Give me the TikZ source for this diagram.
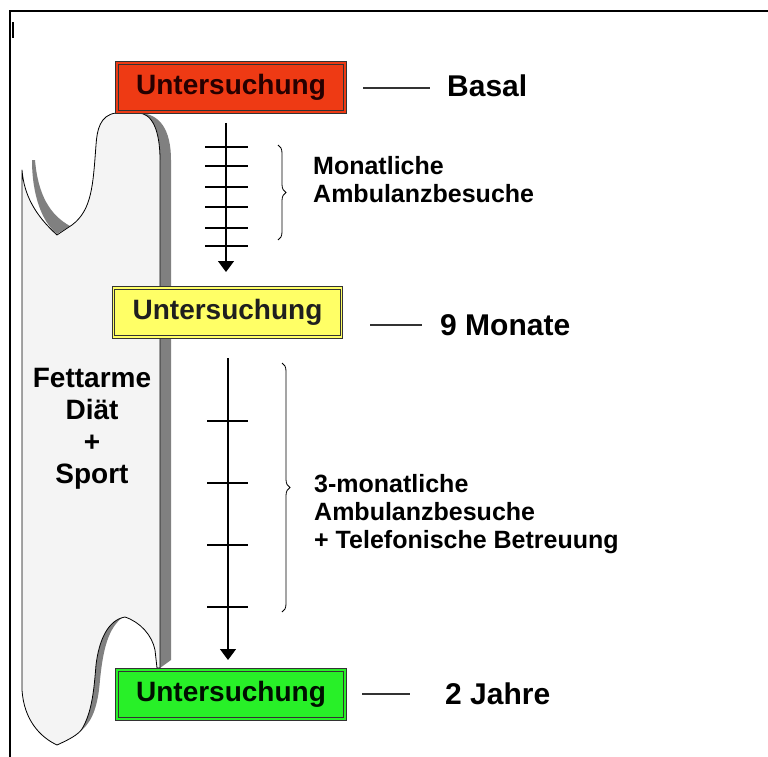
\documentclass[tikz,border=0pt]{standalone}
\usepackage{fontspec}
\setmainfont{Liberation Sans}
\usetikzlibrary{arrows.meta,decorations.pathreplacing}
\definecolor{redfill}{RGB}{238,58,20}
\definecolor{yellowfill}{RGB}{255,255,102}
\definecolor{greenfill}{RGB}{40,240,40}
\definecolor{bodyfill}{RGB}{244,244,244}
\definecolor{shadowgray}{RGB}{128,128,128}
\begin{document}
\begin{tikzpicture}[x=1pt,y=-1pt,
  exambox/.style={draw=black!80, line width=0.9pt, double distance=1.6pt,
    minimum width=228pt, minimum height=49pt, inner sep=0pt,
    font=\bfseries\fontsize{28}{32}\selectfont, text=black!88},
  timelab/.style={font=\bfseries\fontsize{30}{36}\selectfont, anchor=base west, inner sep=0pt},
  notelab/.style={font=\bfseries\fontsize{25}{28}\selectfont, anchor=base west, inner sep=0pt},
  leader/.style={line width=1.1pt, black!80},
  timeline/.style={line width=1.3pt, -{Triangle[width=16pt,length=11pt]}},
  tick/.style={line width=1.1pt},
  bracestyle/.style={line width=0.8pt, decorate, decoration={brace, amplitude=8pt}}]
\useasboundingbox (0,0) rectangle (768,757);
\fill[white] (0,0) rectangle (768,757);
% frame
\draw[line width=2.5pt] (10,757) -- (10,11) -- (768,11);
\fill (11.5,22) rectangle (13.5,38);
% scroll shadows
\fill[shadowgray] (138,113) .. controls (160,113) and (171,130) .. (171,160) -- (171,660) -- (160,668) -- (160,160) .. controls (160,130) and (152,113) .. (138,113) -- cycle;
\fill[shadowgray] (32,160) .. controls (32,195) and (42,222) .. (57,234) -- (70,226) .. controls (50,215) and (38,195) .. (35,160) -- cycle;
\fill[shadowgray] (123,617) .. controls (108,628) and (103,650) .. (100,680) .. controls (98,705) and (93,720) .. (82,730) -- (80,731) .. controls (90,715) and (93,690) .. (96,665) .. controls (99,640) and (108,620) .. (123,617) -- cycle;
% scroll body
\draw[fill=bodyfill, line width=0.8pt, line join=round]
  (22,170) -- (22,690) .. controls (24,720) and (40,737) .. (57,745)
  .. controls (68,740) and (78,735) .. (82,729)
  .. controls (92,712) and (94,690) .. (96,665)
  .. controls (99,640) and (108,620) .. (125,617)
  .. controls (140,622) and (152,635) .. (155,650) -- (157,668) -- (160,668)
  -- (160,160) .. controls (160,130) and (152,113) .. (138,113) -- (116,113)
  .. controls (100,115) and (97,130) .. (96,145)
  .. controls (93,185) and (92,210) .. (72,225) -- (57,235)
  .. controls (35,215) and (24,195) .. (22,170) -- cycle;
\node[inner sep=0pt, anchor=base] (diet) at (92,387)
  {\bfseries\fontsize{28}{32.3}\selectfont\begin{tabular}[t]{@{}c@{}}Fettarme\\Diät\\+\\Sport\end{tabular}};
% boxes
\node[exambox, fill=redfill, double=redfill, text=black!75!red!60!black] (e1) at (231,87.5) {Untersuchung};
\node[exambox, fill=yellowfill, double=yellowfill] (e2) at (227.5,312.5) {Untersuchung};
\node[exambox, fill=greenfill, double=greenfill, text=black!85!green!40!black] (e3) at (231,694.5) {Untersuchung};
% time labels
\node[timelab] (t1) at (447,97) {Basal};
\node[timelab] (t2) at (440,335) {9 Monate};
\node[timelab] (t3) at (445,704) {2 Jahre};
\coordinate (l1a) at (363,88); \coordinate (l1b) at (430,88);
\coordinate (l2a) at (370,325); \coordinate (l2b) at (422,325);
\coordinate (l3a) at (362,694); \coordinate (l3b) at (410,694);
\draw[leader] (l1a) -- (l1b);
\draw[leader] (l2a) -- (l2b);
\draw[leader] (l3a) -- (l3b);
% timelines
\coordinate (a1s) at (226,123); \coordinate (a1e) at (226,272);
\coordinate (a2s) at (228,358); \coordinate (a2e) at (228,660);
\draw[timeline] (a1s) -- (a1e);
\draw[timeline] (a2s) -- (a2e);
\foreach \yy in {147,166,187,207,228,246} \draw[tick] (205,\yy) -- (248,\yy);
\foreach \yy in {421,483,545,607} \draw[tick] (207,\yy) -- (248,\yy);
% braces
\coordinate (b1s) at (278,145); \coordinate (b1e) at (278,240);
\coordinate (b2s) at (282,363); \coordinate (b2e) at (282,612);
\draw[bracestyle] (b1s) -- (b1e);
\draw[bracestyle] (b2s) -- (b2e);
% notes
\node[notelab, inner sep=0pt] (n1) at (313,175)
  {\begin{tabular}[t]{@{}l@{}}Monatliche\\Ambulanzbesuche\end{tabular}};
\node[notelab, inner sep=0pt] (n2) at (314,492)
  {\begin{tabular}[t]{@{}l@{}}3-monatliche\\Ambulanzbesuche\\+ Telefonische Betreuung\end{tabular}};
\end{tikzpicture}
\end{document}
